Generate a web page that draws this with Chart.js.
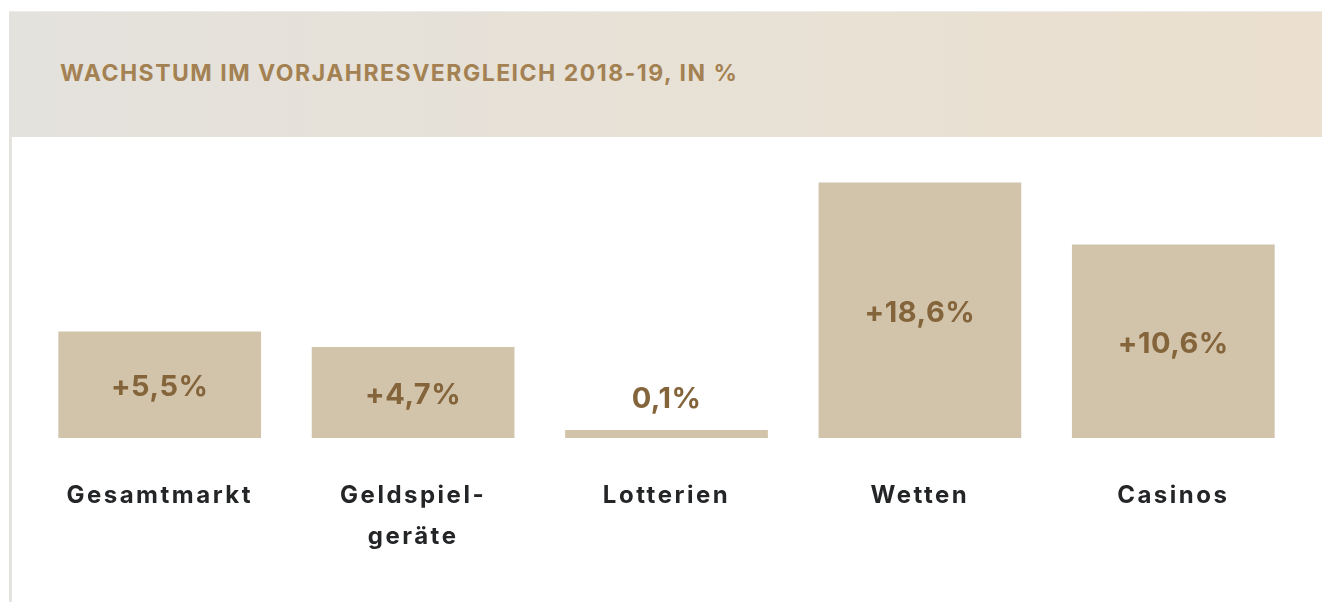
<!DOCTYPE html>
<html lang="de">
<head>
<meta charset="utf-8">
<title>Wachstum im Vorjahresvergleich 2018-19</title>
<script src="https://cdn.jsdelivr.net/npm/chart.js@4/dist/chart.umd.min.js"></script>
<style>
    html, body {
        margin: 0;
        padding: 0;
        background: #ffffff;
        font-family: Inter, "Noto Sans", sans-serif;
    }
    .panel {
        position: absolute;
        left: 9px;
        top: 11px;
        width: 1313px;
        height: 591px;
        border-left: 3px solid #e5e3de;
        box-sizing: border-box;
    }
    .panel-head {
        position: absolute;
        left: -3px;
        top: 0;
        right: 0;
        height: 125px;
        border-top: 1px solid #ecebe7;
        background: linear-gradient(to right, #e4e2dd, #ebe0cf);
    }
    .panel-head h2 {
        margin: 0;
        position: absolute;
        left: 51px;
        top: 47px;
        font-size: 23px;
        font-weight: 700;
        letter-spacing: 1.5px;
        color: #a38152;
        white-space: nowrap;
    }
    .chart-box {
        position: absolute;
        left: 0;
        top: 125px;
        width: 1310px;
        height: 466px;
    }
</style>
</head>
<body>
<div class="panel">
    <div class="panel-head"><h2>WACHSTUM IM VORJAHRESVERGLEICH 2018-19, IN %</h2></div>
    <div class="chart-box"><canvas id="growth-chart" width="1310" height="466"></canvas></div>
</div>
<script>
// categories (multi-line where the original wraps)
const categories = ['Gesamtmarkt', ['Geldspiel-', 'geräte'], 'Lotterien', 'Wetten', 'Casinos'];
// growth values shown as labels, in %
const growth = [5.5, 4.7, 0.1, 18.6, 10.6];
const growthLabels = ['+5,5%', '+4,7%', '0,1%', '+18,6%', '+10,6%'];
// bar lengths as drawn in the original (big bars are visually capped)
const barLengths = [5.5, 4.7, 0.41, 13.2, 10.0];

const barColor = '#d2c3ab';
const valueColor = '#84643a';
const categoryColor = '#232527';

// Inter is narrower than the original font, so widen the tick labels a bit
const tickSpacing = {
    id: 'tickSpacing',
    beforeDraw: function(chart) {
        chart.ctx.letterSpacing = '2.5px';
    },
    afterDraw: function(chart) {
        chart.ctx.letterSpacing = '0px';
    }
};

// draws the value labels: inside the bar, or above it when the bar is too thin
const valueLabels = {
    id: 'valueLabels',
    afterDatasetsDraw: function(chart) {
        const ctx = chart.ctx;
        const meta = chart.getDatasetMeta(0);
        ctx.save();
        ctx.letterSpacing = '0.5px';
        ctx.font = '700 29px Inter, "Noto Sans", sans-serif';
        ctx.fillStyle = valueColor;
        ctx.textAlign = 'center';
        ctx.textBaseline = 'middle';
        meta.data.forEach(function(bar, i) {
            const h = bar.base - bar.y;
            let y;
            if (h < 40) {
                y = bar.y - 31;
            } else {
                y = (bar.y + bar.base) / 2 + 3;
            }
            ctx.fillText(growthLabels[i], bar.x, y);
        });
        ctx.restore();
    }
};

new Chart(document.getElementById('growth-chart'), {
    type: 'bar',
    data: {
        labels: categories,
        datasets: [{
            data: barLengths,
            backgroundColor: barColor,
            borderWidth: 0,
            barPercentage: 0.8,
            categoryPercentage: 1.0
        }]
    },
    options: {
        responsive: false,
        animation: false,
        layout: {
            padding: {left: 21, right: 22, top: 0, bottom: 0}
        },
        plugins: {
            legend: {display: false},
            tooltip: {enabled: false}
        },
        scales: {
            x: {
                grid: {display: false, drawTicks: false},
                border: {display: false},
                ticks: {
                    padding: 37,
                    color: categoryColor,
                    font: {family: 'Inter, "Noto Sans", sans-serif', size: 24, weight: '700', lineHeight: 41 / 24},
                    maxRotation: 0,
                    autoSkip: false
                },
                afterFit: function(scale) {
                    scale.height = 164;
                }
            },
            y: {
                display: false,
                min: 0,
                max: 15.6
            }
        }
    },
    plugins: [tickSpacing, valueLabels]
});
</script>
</body>
</html>
